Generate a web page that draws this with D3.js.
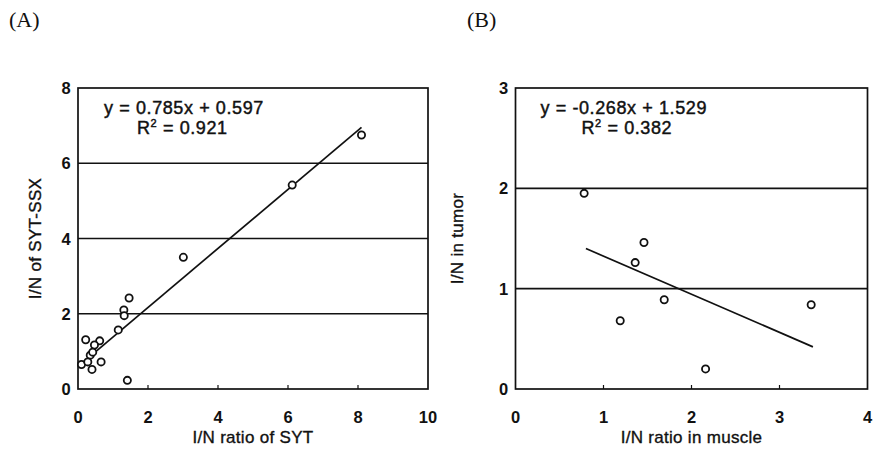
<!DOCTYPE html>
<html>
<head>
  <style>
  body {
    margin: 0;
    background: #fff;
  }
  svg text {
    fill: #111;
  }
  .tick-label {
    font-family: "Liberation Sans", Arial, sans-serif;
    font-size: 16.5px;
    font-weight: bold;
  }
  .axis-title {
    font-family: "Liberation Sans", Arial, sans-serif;
    font-size: 17px;
    letter-spacing: 0.3px;
    stroke: #111;
    stroke-width: 0.35px;
  }
  .eq {
    font-family: "Liberation Sans", Arial, sans-serif;
    font-size: 18px;
    letter-spacing: 0.6px;
    stroke: #111;
    stroke-width: 0.45px;
  }
  .panel-label {
    font-family: "Liberation Serif", "Times New Roman", serif;
    font-size: 22px;
  }
  </style>
</head>
<body>
  <div id="chart"></div>
  <script src="https://d3js.org/d3.v7.min.js"></script>
  <script>
  // panel A: I/N ratio of SYT vs I/N of SYT-SSX
  var syt = [8.1, 6.12, 3.01, 1.46, 1.31, 1.32, 1.15, 1.41, 0.22, 0.62, 0.47, 0.35, 0.66, 0.1, 0.28, 0.4, 0.42];
  var sytSsx = [6.75, 5.42, 3.5, 2.42, 2.1, 1.95, 1.57, 0.23, 1.31, 1.28, 1.17, 0.9, 0.72, 0.65, 0.72, 0.52, 0.98];
  var fitA = {slope: 0.785, intercept: 0.597, from: 0.1, to: 8.1};
  var xTicksA = [0, 2, 4, 6, 8, 10];
  var yTicksA = [0, 2, 4, 6, 8];

  // panel B: I/N ratio in muscle vs I/N in tumor
  var muscle = [0.78, 1.46, 1.36, 1.69, 1.19, 2.16, 3.36];
  var tumor = [1.95, 1.46, 1.26, 0.89, 0.68, 0.2, 0.84];
  var fitBx = [0.8, 3.38];
  var fitBy = [1.4, 0.42];
  var xTicksB = [0, 1, 2, 3, 4];
  var yTicksB = [0, 1, 2, 3];

  var svg = d3.select("#chart").append("svg")
      .attr("width", 873)
      .attr("height", 459);

  function panel(opt) {
    var x = d3.scaleLinear().domain(opt.xDomain).range(opt.xRange);
    var y = d3.scaleLinear().domain(opt.yDomain).range(opt.yRange);
    var g = svg.append("g");

    // horizontal grid lines
    g.selectAll("line.grid")
        .data(opt.yTicks.slice(1, -1))
      .enter().append("line")
        .attr("class", "grid")
        .attr("x1", x.range()[0]).attr("x2", x.range()[1])
        .attr("y1", function(d){ return y(d); }).attr("y2", function(d){ return y(d); })
        .style("stroke", "#111").style("stroke-width", 1.7);

    // frame
    g.append("rect")
        .attr("x", x.range()[0]).attr("y", y.range()[1])
        .attr("width", x.range()[1] - x.range()[0])
        .attr("height", y.range()[0] - y.range()[1])
        .style("fill", "none").style("stroke", "#111").style("stroke-width", 1.7);

    // small inward ticks on bottom axis
    g.selectAll("line.xt")
        .data(opt.xTicks.slice(1, -1))
      .enter().append("line")
        .attr("class", "xt")
        .attr("x1", function(d){ return x(d); }).attr("x2", function(d){ return x(d); })
        .attr("y1", y.range()[0]).attr("y2", y.range()[0] - 4)
        .style("stroke", "#111").style("stroke-width", 1.2);

    // tick labels
    g.selectAll("text.xl")
        .data(opt.xTicks)
      .enter().append("text")
        .attr("class", "tick-label")
        .attr("x", function(d){ return x(d); })
        .attr("y", y.range()[0] + 34)
        .attr("text-anchor", "middle")
        .text(function(d){ return d; });

    g.selectAll("text.yl")
        .data(opt.yTicks)
      .enter().append("text")
        .attr("class", "tick-label")
        .attr("x", x.range()[0] - 12)
        .attr("y", function(d){ return y(d) + 6; })
        .attr("text-anchor", "middle")
        .text(function(d){ return d; });

    // axis titles
    g.append("text")
        .attr("class", "axis-title")
        .attr("x", (x.range()[0] + x.range()[1]) / 2 + opt.xTitleShift)
        .attr("y", y.range()[0] + 54)
        .attr("text-anchor", "middle")
        .text(opt.xTitle);

    g.append("text")
        .attr("class", "axis-title")
        .attr("transform", "translate(" + opt.yTitleX + "," + ((y.range()[0] + y.range()[1]) / 2) + ") rotate(-90)")
        .attr("text-anchor", "middle")
        .text(opt.yTitle);

    // fit line
    g.append("line")
        .attr("x1", x(opt.fit[0][0])).attr("y1", y(opt.fit[0][1]))
        .attr("x2", x(opt.fit[1][0])).attr("y2", y(opt.fit[1][1]))
        .style("stroke", "#111").style("stroke-width", 1.7);

    // points
    g.selectAll("circle")
        .data(opt.xs)
      .enter().append("circle")
        .attr("cx", function(d){ return x(d); })
        .attr("cy", function(d, i){ return y(opt.ys[i]); })
        .attr("r", 3.6)
        .style("fill", "#fff").style("stroke", "#111").style("stroke-width", 1.8);

    // equation
    var eq = g.append("text").attr("class", "eq")
        .attr("x", x.range()[0] + opt.eqX).attr("y", y.range()[1] + 26);
    eq.text(opt.eq);
    var r2 = g.append("text").attr("class", "eq")
        .attr("x", x.range()[0] + opt.eqX + opt.r2Shift).attr("y", y.range()[1] + 46);
    r2.append("tspan").text("R");
    r2.append("tspan").attr("dy", -7).style("font-size", "11px").text("2");
    r2.append("tspan").attr("dy", 7).text(" = " + opt.r2);

    // panel label
    svg.append("text")
        .attr("class", "panel-label")
        .attr("x", opt.labelX).attr("y", 27)
        .text(opt.label);
  }

  panel({
    xDomain: [0, 10], yDomain: [0, 8],
    xRange: [78, 428], yRange: [389, 88],
    xTicks: xTicksA, yTicks: yTicksA,
    xs: syt, ys: sytSsx,
    fit: [[fitA.from, fitA.slope * fitA.from + fitA.intercept], [fitA.to, fitA.slope * fitA.to + fitA.intercept]],
    eq: "y = 0.785x + 0.597", r2: "0.921", eqX: 26, r2Shift: 33,
    xTitle: "I/N ratio of SYT", xTitleShift: 0,
    yTitle: "I/N of SYT-SSX", yTitleX: 41,
    label: "(A)", labelX: 9
  });

  panel({
    xDomain: [0, 4], yDomain: [0, 3],
    xRange: [515.5, 867.5], yRange: [389, 88],
    xTicks: xTicksB, yTicks: yTicksB,
    xs: muscle, ys: tumor,
    fit: [[fitBx[0], fitBy[0]], [fitBx[1], fitBy[1]]],
    eq: "y = -0.268x + 1.529", r2: "0.382", eqX: 25, r2Shift: 41,
    xTitle: "I/N ratio in muscle", xTitleShift: 0,
    yTitle: "I/N in tumor", yTitleX: 463,
    label: "(B)", labelX: 467
  });
  </script>
</body>
</html>
